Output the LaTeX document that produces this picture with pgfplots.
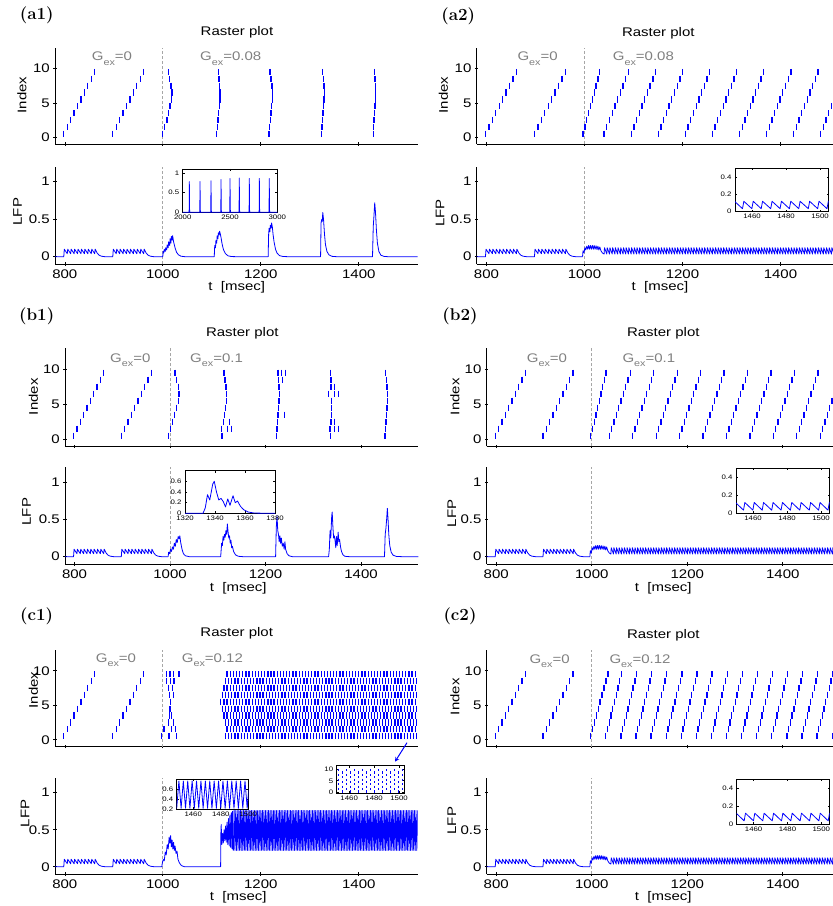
\documentclass[border=0pt]{standalone}
\usepackage{fontspec}
\usepackage{pgfplots}
\usepackage{pgfplotstable}
\pgfplotsset{compat=1.18}
\newfontfamily\hel[FakeStretch=1.2]{Liberation Sans}

% ---------- shared pre-stimulus data ----------
\pgfplotstableread[row sep=\\]{t y\\
798 0.5\\ 805 1.5\\ 812 2.5\\ 819 3.5\\ 826 4.5\\ 833 5.5\\ 840 6.5\\ 847 7.5\\ 854 8.5\\ 861 9.5\\
898 0.5\\ 905 1.5\\ 912 2.5\\ 919 3.5\\ 926 4.5\\ 933 5.5\\ 940 6.5\\ 947 7.5\\ 954 8.5\\ 961 9.5\\
}\preR
\pgfplotstableread[row sep=\\]{t y\\
780 0\\ 797.9 0\\ 799 0.1\\ 805 0.04\\ 806 0.1\\ 812 0.04\\ 813 0.1\\ 819 0.04\\ 820 0.1\\ 826 0.04\\ 827 0.1\\
833 0.04\\ 834 0.1\\ 840 0.04\\ 841 0.1\\ 847 0.04\\ 848 0.1\\ 854 0.04\\ 855 0.1\\ 861 0.04\\ 862 0.1\\
866 0.05\\ 870 0.02\\ 875 0.006\\ 882 0\\ 897.9 0\\ 899 0.1\\ 905 0.04\\ 906 0.1\\ 912 0.04\\ 913 0.1\\
919 0.04\\ 920 0.1\\ 926 0.04\\ 927 0.1\\ 933 0.04\\ 934 0.1\\ 940 0.04\\ 941 0.1\\ 947 0.04\\ 948 0.1\\
954 0.04\\ 955 0.1\\ 961 0.04\\ 962 0.1\\ 966 0.05\\ 970 0.02\\ 975 0.006\\ 982 0\\ 996 0\\
}\preL

% ---------- (a1) ----------
\pgfplotstableread[row sep=\\]{t y\\
999.6 0.5\\ 1004 1.5\\ 1008.5 2.5\\ 1012 3.5\\ 1015 4.5\\ 1017.5 5.5\\ 1018.5 6.5\\ 1016.5 7.5\\ 1013.5 8.5\\ 1011 9.5\\
1110 0.5\\ 1111 1.5\\ 1112.5 2.5\\ 1114 3.5\\ 1115.5 4.5\\ 1116.5 5.5\\ 1117 6.5\\ 1116 7.5\\ 1114.5 8.5\\ 1113 9.5\\
1217 0.5\\ 1218 1.5\\ 1219.5 2.5\\ 1221 3.5\\ 1222.5 4.5\\ 1223.5 5.5\\ 1224 6.5\\ 1223 7.5\\ 1221 8.5\\ 1219 9.5\\
1324.5 0.5\\ 1325 1.5\\ 1326 2.5\\ 1327 3.5\\ 1328 4.5\\ 1329 5.5\\ 1329.5 6.5\\ 1329 7.5\\ 1328 8.5\\ 1326.5 9.5\\
1429.5 0.5\\ 1430 1.5\\ 1431 2.5\\ 1432 3.5\\ 1433 4.5\\ 1434 5.5\\ 1434.5 6.5\\ 1434 7.5\\ 1433 8.5\\ 1432 9.5\\
}\aoneR
\pgfplotstableread[row sep=\\]{t y\\
996 0\\ 1000 0\\ 1000.5 0.07\\ 1002 0.05\\ 1003 0.1\\ 1005 0.07\\ 1006 0.12\\ 1008 0.09\\ 1009 0.16\\ 1011 0.12\\
1012 0.2\\ 1014 0.15\\ 1015 0.24\\ 1016.5 0.18\\ 1017.5 0.27\\ 1019 0.22\\ 1020 0.28\\ 1022 0.2\\ 1025 0.12\\ 1028 0.06\\
1032 0.025\\ 1037 0.007\\ 1045 0\\ 1105 0\\ 1106 0.15\\ 1107.5 0.12\\ 1108.5 0.22\\ 1110 0.18\\ 1111 0.28\\ 1112.5 0.24\\
1113.5 0.32\\ 1115 0.29\\ 1116 0.34\\ 1117.5 0.3\\ 1119 0.25\\ 1121 0.17\\ 1124 0.09\\ 1128 0.04\\ 1133 0.012\\ 1140 0.002\\
1150 0\\ 1215 0\\ 1216 0.3\\ 1217 0.38\\ 1218.5 0.33\\ 1219.5 0.42\\ 1221 0.38\\ 1222 0.45\\ 1223.5 0.4\\ 1225 0.3\\
1227 0.2\\ 1230 0.1\\ 1233 0.05\\ 1238 0.015\\ 1245 0.003\\ 1255 0\\ 1322 0\\ 1323 0.45\\ 1324.5 0.5\\ 1325.5 0.47\\
1326.5 0.59\\ 1328 0.5\\ 1330 0.3\\ 1332 0.16\\ 1335 0.07\\ 1339 0.025\\ 1345 0.005\\ 1355 0\\ 1428 0\\ 1429.5 0.4\\
1431 0.55\\ 1432.5 0.72\\ 1434 0.6\\ 1436 0.35\\ 1438 0.18\\ 1441 0.07\\ 1445 0.02\\ 1452 0.003\\ 1460 0\\ 1520 0\\
}\aoneL
\pgfplotstableread[row sep=\\]{t y\\
2000 0\\ 2068 0\\ 2070 0.78\\ 2073 0.05\\ 2076 0\\ 2181 0\\ 2183 0.78\\ 2186 0.05\\ 2189 0\\
2297 0\\ 2299 0.8\\ 2302 0.05\\ 2305 0\\ 2403 0\\ 2405 0.83\\ 2408 0.05\\ 2411 0\\
2498 0\\ 2500 0.86\\ 2503 0.05\\ 2506 0\\ 2596 0\\ 2598 0.87\\ 2601 0.05\\ 2604 0\\
2702 0\\ 2704 0.86\\ 2707 0.05\\ 2710 0\\ 2808 0\\ 2810 0.86\\ 2813 0.05\\ 2816 0\\
2913 0\\ 2915 0.86\\ 2918 0.05\\ 2921 0\\ 3000 0\\
}\aoneI

% ---------- (a2) ----------
\pgfplotstableread[row sep=\\]{t y\\
997 0.5\\ 1000.8 1.5\\ 1004.6 2.5\\ 1008.4 3.5\\ 1012.2 4.5\\ 1016 5.5\\ 1019.8 6.5\\ 1023.6 7.5\\ 1027.4 8.5\\ 1031.2 9.5\\
1040.0 0.5\\ 1045.5 1.5\\ 1051.1 2.5\\ 1056.6 3.5\\ 1062.1 4.5\\ 1067.6 5.5\\ 1073.2 6.5\\ 1078.7 7.5\\ 1084.2 8.5\\ 1089.7 9.5\\
1095.3 0.5\\ 1100.8 1.5\\ 1106.3 2.5\\ 1111.8 3.5\\ 1117.4 4.5\\ 1122.9 5.5\\ 1128.4 6.5\\ 1133.9 7.5\\ 1139.5 8.5\\ 1145.0 9.5\\
1150.5 0.5\\ 1156.0 1.5\\ 1161.6 2.5\\ 1167.1 3.5\\ 1172.6 4.5\\ 1178.1 5.5\\ 1183.7 6.5\\ 1189.2 7.5\\ 1194.7 8.5\\ 1200.2 9.5\\
1205.8 0.5\\ 1211.3 1.5\\ 1216.8 2.5\\ 1222.3 3.5\\ 1227.9 4.5\\ 1233.4 5.5\\ 1238.9 6.5\\ 1244.4 7.5\\ 1250.0 8.5\\ 1255.5 9.5\\
1261.0 0.5\\ 1266.5 1.5\\ 1272.1 2.5\\ 1277.6 3.5\\ 1283.1 4.5\\ 1288.6 5.5\\ 1294.2 6.5\\ 1299.7 7.5\\ 1305.2 8.5\\ 1310.7 9.5\\
1316.3 0.5\\ 1321.8 1.5\\ 1327.3 2.5\\ 1332.8 3.5\\ 1338.4 4.5\\ 1343.9 5.5\\ 1349.4 6.5\\ 1354.9 7.5\\ 1360.5 8.5\\ 1366.0 9.5\\
1371.5 0.5\\ 1377.0 1.5\\ 1382.6 2.5\\ 1388.1 3.5\\ 1393.6 4.5\\ 1399.1 5.5\\ 1404.7 6.5\\ 1410.2 7.5\\ 1415.7 8.5\\ 1421.2 9.5\\
1426.8 0.5\\ 1432.3 1.5\\ 1437.8 2.5\\ 1443.3 3.5\\ 1448.9 4.5\\ 1454.4 5.5\\ 1459.9 6.5\\ 1465.4 7.5\\ 1471.0 8.5\\ 1476.5 9.5\\
1482.0 0.5\\ 1487.5 1.5\\ 1493.1 2.5\\ 1498.6 3.5\\ 1504.1 4.5\\ 1509.6 5.5\\ 1515.2 6.5\\
}\atwoR
% shared LFP after the switch, right column
\pgfplotstableread[row sep=\\]{t y\\
996 0\\ 997 0.08\\ 999 0.05\\ 1000.8 0.12\\ 1002.5 0.09\\ 1004.6 0.14\\ 1006.5 0.1\\ 1008.4 0.15\\ 1010.2 0.1\\ 1012.2 0.15\\
1014 0.1\\ 1016 0.15\\ 1018 0.1\\ 1019.8 0.15\\ 1021.6 0.1\\ 1023.6 0.145\\ 1025.5 0.095\\ 1027.4 0.14\\ 1029.3 0.09\\ 1031.2 0.13\\
1033.5 0.08\\ 1036.5 0.05\\
1040.0 0.035\\ 1040.8 0.12\\ 1045.5 0.035\\ 1046.3 0.12\\ 1051.1 0.035\\ 1051.9 0.12\\ 1056.6 0.035\\ 1057.4 0.12\\ 1062.1 0.035\\ 1062.9 0.12\\
1067.6 0.035\\ 1068.4 0.12\\ 1073.2 0.035\\ 1074.0 0.12\\ 1078.7 0.035\\ 1079.5 0.12\\ 1084.2 0.035\\ 1085.0 0.12\\ 1089.7 0.035\\ 1090.5 0.12\\
1095.3 0.035\\ 1096.1 0.12\\ 1100.8 0.035\\ 1101.6 0.12\\ 1106.3 0.035\\ 1107.1 0.12\\ 1111.8 0.035\\ 1112.6 0.12\\ 1117.4 0.035\\ 1118.2 0.12\\
1122.9 0.035\\ 1123.7 0.12\\ 1128.4 0.035\\ 1129.2 0.12\\ 1133.9 0.035\\ 1134.7 0.12\\ 1139.5 0.035\\ 1140.3 0.12\\ 1145.0 0.035\\ 1145.8 0.12\\
1150.5 0.035\\ 1151.3 0.12\\ 1156.0 0.035\\ 1156.8 0.12\\ 1161.6 0.035\\ 1162.4 0.12\\ 1167.1 0.035\\ 1167.9 0.12\\ 1172.6 0.035\\ 1173.4 0.12\\
1178.1 0.035\\ 1178.9 0.12\\ 1183.7 0.035\\ 1184.5 0.12\\ 1189.2 0.035\\ 1190.0 0.12\\ 1194.7 0.035\\ 1195.5 0.12\\ 1200.2 0.035\\ 1201.0 0.12\\
1205.8 0.035\\ 1206.6 0.12\\ 1211.3 0.035\\ 1212.1 0.12\\ 1216.8 0.035\\ 1217.6 0.12\\ 1222.3 0.035\\ 1223.1 0.12\\ 1227.9 0.035\\ 1228.7 0.12\\
1233.4 0.035\\ 1234.2 0.12\\ 1238.9 0.035\\ 1239.7 0.12\\ 1244.4 0.035\\ 1245.2 0.12\\ 1250.0 0.035\\ 1250.8 0.12\\ 1255.5 0.035\\ 1256.3 0.12\\
1261.0 0.035\\ 1261.8 0.12\\ 1266.5 0.035\\ 1267.3 0.12\\ 1272.1 0.035\\ 1272.9 0.12\\ 1277.6 0.035\\ 1278.4 0.12\\ 1283.1 0.035\\ 1283.9 0.12\\
1288.6 0.035\\ 1289.4 0.12\\ 1294.2 0.035\\ 1295.0 0.12\\ 1299.7 0.035\\ 1300.5 0.12\\ 1305.2 0.035\\ 1306.0 0.12\\ 1310.7 0.035\\ 1311.5 0.12\\
1316.3 0.035\\ 1317.1 0.12\\ 1321.8 0.035\\ 1322.6 0.12\\ 1327.3 0.035\\ 1328.1 0.12\\ 1332.8 0.035\\ 1333.6 0.12\\ 1338.4 0.035\\ 1339.2 0.12\\
1343.9 0.035\\ 1344.7 0.12\\ 1349.4 0.035\\ 1350.2 0.12\\ 1354.9 0.035\\ 1355.7 0.12\\ 1360.5 0.035\\ 1361.3 0.12\\ 1366.0 0.035\\ 1366.8 0.12\\
1371.5 0.035\\ 1372.3 0.12\\ 1377.0 0.035\\ 1377.8 0.12\\ 1382.6 0.035\\ 1383.4 0.12\\ 1388.1 0.035\\ 1388.9 0.12\\ 1393.6 0.035\\ 1394.4 0.12\\
1399.1 0.035\\ 1399.9 0.12\\ 1404.7 0.035\\ 1405.5 0.12\\ 1410.2 0.035\\ 1411.0 0.12\\ 1415.7 0.035\\ 1416.5 0.12\\ 1421.2 0.035\\ 1422.0 0.12\\
1426.8 0.035\\ 1427.6 0.12\\ 1432.3 0.035\\ 1433.1 0.12\\ 1437.8 0.035\\ 1438.6 0.12\\ 1443.3 0.035\\ 1444.1 0.12\\ 1448.9 0.035\\ 1449.7 0.12\\
1454.4 0.035\\ 1455.2 0.12\\ 1459.9 0.035\\ 1460.7 0.12\\ 1465.4 0.035\\ 1466.2 0.12\\ 1471.0 0.035\\ 1471.8 0.12\\ 1476.5 0.035\\ 1477.3 0.12\\
1482.0 0.035\\ 1482.8 0.12\\ 1487.5 0.035\\ 1488.3 0.12\\ 1493.1 0.035\\ 1493.9 0.12\\ 1498.6 0.035\\ 1499.4 0.12\\ 1504.1 0.035\\ 1504.9 0.12\\
1509.6 0.035\\ 1510.4 0.12\\ 1515.2 0.035\\ 1516.0 0.12\\ 1520.7 0.035\\ 1521.5 0.12\\
}\rightL

% ---------- (b1) ----------
\pgfplotstableread[row sep=\\]{t y\\
996.5 0.5\\ 1001 1.5\\ 1005.5 2.5\\ 1010 3.5\\ 1014 4.5\\ 1017 5.5\\ 1019 6.5\\ 1017.5 7.5\\ 1014 8.5\\ 1010.5 9.5\\
1109 0.5\\ 1107 1.5\\ 1121 1.5\\ 1129 1.5\\ 1112 2.5\\ 1124 2.5\\ 1114 3.5\\ 1116 4.5\\ 1117.5 5.5\\ 1118 6.5\\ 1117 7.5\\ 1115 8.5\\ 1113 9.5\\
1223 0.5\\ 1224 1.5\\ 1225 2.5\\ 1226 3.5\\ 1240 3.5\\ 1227 4.5\\ 1228 5.5\\ 1228.5 6.5\\ 1228 7.5\\ 1227 8.5\\ 1235 8.5\\ 1226 9.5\\ 1234 9.5\\ 1241 9.5\\
1336 0.5\\ 1335 1.5\\ 1345 1.5\\ 1352 1.5\\ 1337 2.5\\ 1345 2.5\\ 1338 3.5\\ 1338.5 4.5\\ 1338 5.5\\ 1332 6.5\\ 1345 6.5\\ 1352 6.5\\ 1337 7.5\\ 1345 7.5\\ 1337 8.5\\ 1336 9.5\\
1450 0.5\\ 1451 1.5\\ 1452 2.5\\ 1453 3.5\\ 1454 4.5\\ 1455 5.5\\ 1455 6.5\\ 1454 7.5\\ 1452.5 8.5\\ 1451 9.5\\
}\boneR
\pgfplotstableread[row sep=\\]{t y\\
996 0\\ 997 0.06\\ 999 0.04\\ 1001 0.1\\ 1003 0.07\\ 1005 0.13\\ 1007 0.1\\ 1009 0.18\\ 1011 0.14\\ 1013 0.23\\
1015 0.19\\ 1017 0.27\\ 1019 0.24\\ 1020.5 0.28\\ 1022 0.2\\ 1025 0.1\\ 1028 0.04\\ 1032 0.012\\ 1040 0\\ 1106 0\\
1108 0.18\\ 1109.5 0.15\\ 1111 0.27\\ 1112.5 0.22\\ 1114 0.3\\ 1115.5 0.26\\ 1117 0.35\\ 1118.5 0.3\\ 1120 0.44\\ 1121.5 0.33\\
1123 0.25\\ 1124.5 0.28\\ 1126 0.18\\ 1127.5 0.22\\ 1129 0.12\\ 1130.5 0.14\\ 1133 0.07\\ 1137 0.025\\ 1143 0.005\\ 1152 0\\
1221 0\\ 1222.5 0.4\\ 1224 0.55\\ 1225.5 0.35\\ 1227 0.3\\ 1228.5 0.2\\ 1230 0.28\\ 1231.5 0.18\\ 1233 0.25\\ 1235 0.14\\
1237 0.18\\ 1239 0.1\\ 1240.5 0.2\\ 1242 0.1\\ 1245 0.04\\ 1249 0.012\\ 1256 0\\ 1332 0\\ 1333.5 0.1\\ 1335 0.35\\
1336.5 0.25\\ 1338.5 0.55\\ 1339.5 0.6\\ 1341 0.4\\ 1342.5 0.25\\ 1344 0.28\\ 1345.5 0.22\\ 1347 0.12\\ 1348.5 0.27\\ 1350 0.15\\
1352 0.33\\ 1353.5 0.2\\ 1355 0.23\\ 1357 0.13\\ 1359 0.07\\ 1362 0.025\\ 1366 0.005\\ 1375 0\\ 1449 0\\ 1450.5 0.3\\
1452 0.38\\ 1453.5 0.5\\ 1455 0.65\\ 1456.5 0.5\\ 1458 0.3\\ 1460 0.15\\ 1463 0.06\\ 1467 0.02\\ 1474 0.003\\ 1485 0\\ 1520 0\\
}\boneL

% ---------- (b2) ----------
\pgfplotstableread[row sep=\\]{t y\\
998 0.5\\ 1001.6 1.5\\ 1005.1 2.5\\ 1008.7 3.5\\ 1012.2 4.5\\ 1015.8 5.5\\ 1019.3 6.5\\ 1022.9 7.5\\ 1026.4 8.5\\ 1030 9.5\\
1036.7 0.5\\ 1041.6 1.5\\ 1046.5 2.5\\ 1051.4 3.5\\ 1056.3 4.5\\ 1061.2 5.5\\ 1066.2 6.5\\ 1071.1 7.5\\ 1076.0 8.5\\ 1080.9 9.5\\
1085.8 0.5\\ 1090.7 1.5\\ 1095.6 2.5\\ 1100.5 3.5\\ 1105.4 4.5\\ 1110.3 5.5\\ 1115.2 6.5\\ 1120.2 7.5\\ 1125.1 8.5\\ 1130.0 9.5\\
1134.9 0.5\\ 1139.8 1.5\\ 1144.7 2.5\\ 1149.6 3.5\\ 1154.5 4.5\\ 1159.4 5.5\\ 1164.3 6.5\\ 1169.2 7.5\\ 1174.2 8.5\\ 1179.1 9.5\\
1184.0 0.5\\ 1188.9 1.5\\ 1193.8 2.5\\ 1198.7 3.5\\ 1203.6 4.5\\ 1208.5 5.5\\ 1213.4 6.5\\ 1218.3 7.5\\ 1223.2 8.5\\ 1228.2 9.5\\
1233.1 0.5\\ 1238.0 1.5\\ 1242.9 2.5\\ 1247.8 3.5\\ 1252.7 4.5\\ 1257.6 5.5\\ 1262.5 6.5\\ 1267.4 7.5\\ 1272.3 8.5\\ 1277.2 9.5\\
1282.2 0.5\\ 1287.1 1.5\\ 1292.0 2.5\\ 1296.9 3.5\\ 1301.8 4.5\\ 1306.7 5.5\\ 1311.6 6.5\\ 1316.5 7.5\\ 1321.4 8.5\\ 1326.3 9.5\\
1331.2 0.5\\ 1336.2 1.5\\ 1341.1 2.5\\ 1346.0 3.5\\ 1350.9 4.5\\ 1355.8 5.5\\ 1360.7 6.5\\ 1365.6 7.5\\ 1370.5 8.5\\ 1375.4 9.5\\
1380.3 0.5\\ 1385.2 1.5\\ 1390.2 2.5\\ 1395.1 3.5\\ 1400.0 4.5\\ 1404.9 5.5\\ 1409.8 6.5\\ 1414.7 7.5\\ 1419.6 8.5\\ 1424.5 9.5\\
1429.4 0.5\\ 1434.3 1.5\\ 1439.2 2.5\\ 1444.2 3.5\\ 1449.1 4.5\\ 1454.0 5.5\\ 1458.9 6.5\\ 1463.8 7.5\\ 1468.7 8.5\\ 1473.6 9.5\\
1478.5 0.5\\ 1483.4 1.5\\ 1488.3 2.5\\ 1493.2 3.5\\ 1498.2 4.5\\ 1503.1 5.5\\ 1508.0 6.5\\
}\btwoR

% ---------- (c1) ----------
\pgfplotstableread[row sep=\\]{t y\\
997.6 0.5\\ 1012.6 0.5\\ 1028.2 0.5\\ 1002.4 1.5\\ 1018 1.5\\ 1026.2 1.5\\ 1011.2 2.5\\ 1021.4 2.5\\ 1013.3 3.5\\ 1018 3.5\\
1014.6 4.5\\ 1016 5.5\\ 1013.3 6.5\\ 1021.4 6.5\\ 1011.2 7.5\\ 1019.4 7.5\\ 1007.8 8.5\\ 1016 8.5\\ 1022.8 8.5\\
1007.8 9.5\\ 1014.6 9.5\\ 1021.4 9.5\\ 1033 9.5\\
1118.4 5.5\\ 1124.8 5.5\\ 1121.6 4.5\\ 1121.6 6.5\\ 1124.8 3.5\\ 1124.8 7.5\\
}\coneR
% spike times of the odd- and even-numbered cells in the sustained state
\pgfplotstableread[row sep=\\]{t\\
1128.0\\ 1134.4\\ 1140.8\\ 1147.2\\ 1153.6\\ 1160.0\\ 1166.4\\ 1172.8\\ 1179.2\\ 1185.6\\
1192.0\\ 1198.4\\ 1204.8\\ 1211.2\\ 1217.6\\ 1224.0\\ 1230.4\\ 1236.8\\ 1243.2\\ 1249.6\\
1256.0\\ 1262.4\\ 1268.8\\ 1275.2\\ 1281.6\\ 1288.0\\ 1294.4\\ 1300.8\\ 1307.2\\ 1313.6\\
1320.0\\ 1326.4\\ 1332.8\\ 1339.2\\ 1345.6\\ 1352.0\\ 1358.4\\ 1364.8\\ 1371.2\\ 1377.6\\
1384.0\\ 1390.4\\ 1396.8\\ 1403.2\\ 1409.6\\ 1416.0\\ 1422.4\\ 1428.8\\ 1435.2\\ 1441.6\\
1448.0\\ 1454.4\\ 1460.8\\ 1467.2\\ 1473.6\\ 1480.0\\ 1486.4\\ 1492.8\\ 1499.2\\ 1505.6\\ 1512.0\\ 1518.4\\
}\cOdd
\pgfplotstableread[row sep=\\]{t\\
1131.2\\ 1137.6\\ 1144.0\\ 1150.4\\ 1156.8\\ 1163.2\\ 1169.6\\ 1176.0\\ 1182.4\\ 1188.8\\
1195.2\\ 1201.6\\ 1208.0\\ 1214.4\\ 1220.8\\ 1227.2\\ 1233.6\\ 1240.0\\ 1246.4\\ 1252.8\\
1259.2\\ 1265.6\\ 1272.0\\ 1278.4\\ 1284.8\\ 1291.2\\ 1297.6\\ 1304.0\\ 1310.4\\ 1316.8\\
1323.2\\ 1329.6\\ 1336.0\\ 1342.4\\ 1348.8\\ 1355.2\\ 1361.6\\ 1368.0\\ 1374.4\\ 1380.8\\
1387.2\\ 1393.6\\ 1400.0\\ 1406.4\\ 1412.8\\ 1419.2\\ 1425.6\\ 1432.0\\ 1438.4\\ 1444.8\\
1451.2\\ 1457.6\\ 1464.0\\ 1470.4\\ 1476.8\\ 1483.2\\ 1489.6\\ 1496.0\\ 1502.4\\ 1508.8\\ 1515.2\\
}\cEven
\pgfplotstableread[row sep=\\]{t y\\
996 0\\ 998 0\\ 999 0.05\\ 1001 0.1\\ 1003 0.08\\ 1005 0.2\\ 1007 0.16\\ 1009 0.3\\ 1011 0.24\\ 1013 0.4\\
1014.5 0.32\\ 1016 0.42\\ 1017.5 0.27\\ 1019 0.36\\ 1020.5 0.24\\ 1022 0.33\\ 1023.5 0.22\\ 1025 0.28\\ 1027 0.18\\ 1029 0.21\\
1031 0.1\\ 1034 0.05\\ 1038 0.015\\ 1044 0\\ 1118 0\\ 1118.5 0.45\\ 1119.2 0.57\\ 1120.5 0.3\\ 1122 0.45\\ 1123.5 0.32\\
1125 0.5\\ 1126.5 0.35\\ 1128 0.55\\ 1129.5 0.33\\ 1131 0.6\\ 1132.5 0.3\\ 1134 0.65\\ 1135.5 0.28\\ 1137 0.7\\ 1138.5 0.26\\
1140 0.73\\ 1141.5 0.24\\ 1142.5 0.75\\ 1144 0.22\\
}\coneL
\pgfplotstableread[row sep=\\]{t y\\
1144.0 0.22\\ 1145.6 0.76\\ 1147.2 0.22\\ 1148.8 0.76\\ 1150.4 0.22\\
1152.0 0.76\\ 1153.6 0.22\\ 1155.2 0.76\\ 1156.8 0.22\\ 1158.4 0.76\\
1160.0 0.22\\ 1161.6 0.76\\ 1163.2 0.22\\ 1164.8 0.76\\ 1166.4 0.22\\
1168.0 0.76\\ 1169.6 0.22\\ 1171.2 0.76\\ 1172.8 0.22\\ 1174.4 0.76\\
1176.0 0.22\\ 1177.6 0.76\\ 1179.2 0.22\\ 1180.8 0.76\\ 1182.4 0.22\\
1184.0 0.76\\ 1185.6 0.22\\ 1187.2 0.76\\ 1188.8 0.22\\ 1190.4 0.76\\
1192.0 0.22\\ 1193.6 0.76\\ 1195.2 0.22\\ 1196.8 0.76\\ 1198.4 0.22\\
1200.0 0.76\\ 1201.6 0.22\\ 1203.2 0.76\\ 1204.8 0.22\\ 1206.4 0.76\\
1208.0 0.22\\ 1209.6 0.76\\ 1211.2 0.22\\ 1212.8 0.76\\ 1214.4 0.22\\
1216.0 0.76\\ 1217.6 0.22\\ 1219.2 0.76\\ 1220.8 0.22\\ 1222.4 0.76\\
1224.0 0.22\\ 1225.6 0.76\\ 1227.2 0.22\\ 1228.8 0.76\\ 1230.4 0.22\\
1232.0 0.76\\ 1233.6 0.22\\ 1235.2 0.76\\ 1236.8 0.22\\ 1238.4 0.76\\
1240.0 0.22\\ 1241.6 0.76\\ 1243.2 0.22\\ 1244.8 0.76\\ 1246.4 0.22\\
1248.0 0.76\\ 1249.6 0.22\\ 1251.2 0.76\\ 1252.8 0.22\\ 1254.4 0.76\\
1256.0 0.22\\ 1257.6 0.76\\ 1259.2 0.22\\ 1260.8 0.76\\ 1262.4 0.22\\
1264.0 0.76\\ 1265.6 0.22\\ 1267.2 0.76\\ 1268.8 0.22\\ 1270.4 0.76\\
1272.0 0.22\\ 1273.6 0.76\\ 1275.2 0.22\\ 1276.8 0.76\\ 1278.4 0.22\\
1280.0 0.76\\ 1281.6 0.22\\ 1283.2 0.76\\ 1284.8 0.22\\ 1286.4 0.76\\
1288.0 0.22\\ 1289.6 0.76\\ 1291.2 0.22\\ 1292.8 0.76\\ 1294.4 0.22\\
1296.0 0.76\\ 1297.6 0.22\\ 1299.2 0.76\\ 1300.8 0.22\\ 1302.4 0.76\\
1304.0 0.22\\ 1305.6 0.76\\ 1307.2 0.22\\ 1308.8 0.76\\ 1310.4 0.22\\
1312.0 0.76\\ 1313.6 0.22\\ 1315.2 0.76\\ 1316.8 0.22\\ 1318.4 0.76\\
1320.0 0.22\\ 1321.6 0.76\\ 1323.2 0.22\\ 1324.8 0.76\\ 1326.4 0.22\\
1328.0 0.76\\ 1329.6 0.22\\ 1331.2 0.76\\ 1332.8 0.22\\ 1334.4 0.76\\
1336.0 0.22\\ 1337.6 0.76\\ 1339.2 0.22\\ 1340.8 0.76\\ 1342.4 0.22\\
1344.0 0.76\\ 1345.6 0.22\\ 1347.2 0.76\\ 1348.8 0.22\\ 1350.4 0.76\\
1352.0 0.22\\ 1353.6 0.76\\ 1355.2 0.22\\ 1356.8 0.76\\ 1358.4 0.22\\
1360.0 0.76\\ 1361.6 0.22\\ 1363.2 0.76\\ 1364.8 0.22\\ 1366.4 0.76\\
1368.0 0.22\\ 1369.6 0.76\\ 1371.2 0.22\\ 1372.8 0.76\\ 1374.4 0.22\\
1376.0 0.76\\ 1377.6 0.22\\ 1379.2 0.76\\ 1380.8 0.22\\ 1382.4 0.76\\
1384.0 0.22\\ 1385.6 0.76\\ 1387.2 0.22\\ 1388.8 0.76\\ 1390.4 0.22\\
1392.0 0.76\\ 1393.6 0.22\\ 1395.2 0.76\\ 1396.8 0.22\\ 1398.4 0.76\\
1400.0 0.22\\ 1401.6 0.76\\ 1403.2 0.22\\ 1404.8 0.76\\ 1406.4 0.22\\
1408.0 0.76\\ 1409.6 0.22\\ 1411.2 0.76\\ 1412.8 0.22\\ 1414.4 0.76\\
1416.0 0.22\\ 1417.6 0.76\\ 1419.2 0.22\\ 1420.8 0.76\\ 1422.4 0.22\\
1424.0 0.76\\ 1425.6 0.22\\ 1427.2 0.76\\ 1428.8 0.22\\ 1430.4 0.76\\
1432.0 0.22\\ 1433.6 0.76\\ 1435.2 0.22\\ 1436.8 0.76\\ 1438.4 0.22\\
1440.0 0.76\\ 1441.6 0.22\\ 1443.2 0.76\\ 1444.8 0.22\\ 1446.4 0.76\\
1448.0 0.22\\ 1449.6 0.76\\ 1451.2 0.22\\ 1452.8 0.76\\ 1454.4 0.22\\
1456.0 0.76\\ 1457.6 0.22\\ 1459.2 0.76\\ 1460.8 0.22\\ 1462.4 0.76\\
1464.0 0.22\\ 1465.6 0.76\\ 1467.2 0.22\\ 1468.8 0.76\\ 1470.4 0.22\\
1472.0 0.76\\ 1473.6 0.22\\ 1475.2 0.76\\ 1476.8 0.22\\ 1478.4 0.76\\
1480.0 0.22\\ 1481.6 0.76\\ 1483.2 0.22\\ 1484.8 0.76\\ 1486.4 0.22\\
1488.0 0.76\\ 1489.6 0.22\\ 1491.2 0.76\\ 1492.8 0.22\\ 1494.4 0.76\\
1496.0 0.22\\ 1497.6 0.76\\ 1499.2 0.22\\ 1500.8 0.76\\ 1502.4 0.22\\
1504.0 0.76\\ 1505.6 0.22\\ 1507.2 0.76\\ 1508.8 0.22\\ 1510.4 0.76\\
1512.0 0.22\\ 1513.6 0.76\\ 1515.2 0.22\\ 1516.8 0.76\\ 1518.4 0.22\\ 1520.0 0.76\\
}\coneB

% ---------- (c2) ----------
\pgfplotstableread[row sep=\\]{t y\\
997 0.5\\ 1001.1 1.5\\ 1005.2 2.5\\ 1009.3 3.5\\ 1013.4 4.5\\ 1017.5 5.5\\ 1021.6 6.5\\ 1025.7 7.5\\ 1029.8 8.5\\ 1033.9 9.5\\
1029.4 0.5\\ 1033.1 1.5\\ 1036.7 2.5\\ 1040.4 3.5\\ 1044.0 4.5\\ 1047.7 5.5\\ 1051.4 6.5\\ 1055.0 7.5\\ 1058.7 8.5\\ 1062.3 9.5\\
1061.0 0.5\\ 1064.7 1.5\\ 1068.3 2.5\\ 1072.0 3.5\\ 1075.6 4.5\\ 1079.3 5.5\\ 1083.0 6.5\\ 1086.6 7.5\\ 1090.3 8.5\\ 1093.9 9.5\\
1092.6 0.5\\ 1096.3 1.5\\ 1099.9 2.5\\ 1103.6 3.5\\ 1107.2 4.5\\ 1110.9 5.5\\ 1114.6 6.5\\ 1118.2 7.5\\ 1121.9 8.5\\ 1125.5 9.5\\
1124.2 0.5\\ 1127.9 1.5\\ 1131.5 2.5\\ 1135.2 3.5\\ 1138.8 4.5\\ 1142.5 5.5\\ 1146.2 6.5\\ 1149.8 7.5\\ 1153.5 8.5\\ 1157.1 9.5\\
1155.8 0.5\\ 1159.5 1.5\\ 1163.1 2.5\\ 1166.8 3.5\\ 1170.4 4.5\\ 1174.1 5.5\\ 1177.8 6.5\\ 1181.4 7.5\\ 1185.1 8.5\\ 1188.7 9.5\\
1187.4 0.5\\ 1191.1 1.5\\ 1194.7 2.5\\ 1198.4 3.5\\ 1202.0 4.5\\ 1205.7 5.5\\ 1209.4 6.5\\ 1213.0 7.5\\ 1216.7 8.5\\ 1220.3 9.5\\
1219.0 0.5\\ 1222.7 1.5\\ 1226.3 2.5\\ 1230.0 3.5\\ 1233.6 4.5\\ 1237.3 5.5\\ 1241.0 6.5\\ 1244.6 7.5\\ 1248.3 8.5\\ 1251.9 9.5\\
1250.6 0.5\\ 1254.3 1.5\\ 1257.9 2.5\\ 1261.6 3.5\\ 1265.2 4.5\\ 1268.9 5.5\\ 1272.6 6.5\\ 1276.2 7.5\\ 1279.9 8.5\\ 1283.5 9.5\\
1282.2 0.5\\ 1285.9 1.5\\ 1289.5 2.5\\ 1293.2 3.5\\ 1296.8 4.5\\ 1300.5 5.5\\ 1304.2 6.5\\ 1307.8 7.5\\ 1311.5 8.5\\ 1315.1 9.5\\
1313.8 0.5\\ 1317.5 1.5\\ 1321.1 2.5\\ 1324.8 3.5\\ 1328.4 4.5\\ 1332.1 5.5\\ 1335.8 6.5\\ 1339.4 7.5\\ 1343.1 8.5\\ 1346.7 9.5\\
1345.4 0.5\\ 1349.1 1.5\\ 1352.7 2.5\\ 1356.4 3.5\\ 1360.0 4.5\\ 1363.7 5.5\\ 1367.4 6.5\\ 1371.0 7.5\\ 1374.7 8.5\\ 1378.3 9.5\\
1377.0 0.5\\ 1380.7 1.5\\ 1384.3 2.5\\ 1388.0 3.5\\ 1391.6 4.5\\ 1395.3 5.5\\ 1399.0 6.5\\ 1402.6 7.5\\ 1406.3 8.5\\ 1409.9 9.5\\
1408.6 0.5\\ 1412.3 1.5\\ 1415.9 2.5\\ 1419.6 3.5\\ 1423.2 4.5\\ 1426.9 5.5\\ 1430.6 6.5\\ 1434.2 7.5\\ 1437.9 8.5\\ 1441.5 9.5\\
1440.2 0.5\\ 1443.9 1.5\\ 1447.5 2.5\\ 1451.2 3.5\\ 1454.8 4.5\\ 1458.5 5.5\\ 1462.2 6.5\\ 1465.8 7.5\\ 1469.5 8.5\\ 1473.1 9.5\\
1471.8 0.5\\ 1475.5 1.5\\ 1479.1 2.5\\ 1482.8 3.5\\ 1486.4 4.5\\ 1490.1 5.5\\ 1493.8 6.5\\ 1497.4 7.5\\ 1501.1 8.5\\ 1504.7 9.5\\
1503.4 0.5\\ 1507.1 1.5\\
}\ctwoR

\pgfplotsset{
  base/.style={scale only axis, tick align=inside, clip=true, anchor=south west,
    every tick/.style={black, line width=0.6pt},
    tick label style={font=\hel\fontsize{12.5}{12.5}\selectfont}},
  main/.style={base, axis x line=bottom, axis y line=left,
    axis line style={-, line width=0.8pt}, major tick length=3.5pt,
    xmin=780, xmax=1520, xtick={800,1000,1200,1400}},
  rast/.style={main, ymin=-1, ymax=13, ytick={0,5,10}, yticklabels={0,5,10}, xticklabels={}},
  lfp/.style={main, ymin=-0.1, ymax=1.2, ytick={0,0.5,1}, yticklabels={0,0.5,1},
    xticklabels={800,1000,1200,1400}},
  ins/.style={base, axis background/.style={fill=white}, axis line style={line width=0.9pt},
    major tick length=2pt, tick label style={font=\hel\fontsize{6.5}{6.5}\selectfont},
    xticklabel style={yshift=1pt}},
  rins/.style={ins, xmin=1450, xmax=1505, ymin=0, ymax=0.5, xtick={1460,1480,1500},
    xticklabels={1460,1480,1500}, ytick={0,0.2,0.4}, yticklabels={0,0.2,0.4}},
  spk/.style={blue, only marks, mark=|, mark size=3.1pt, mark options={line width=1.3pt}},
  spks/.style={blue, only marks, mark=|, mark size=1.1pt, mark options={line width=1pt}},
  lf/.style={blue, line width=0.8pt, no marks, line join=round},
  dsh/.style={black!35, dash pattern=on 3pt off 2pt, line width=0.6pt, no marks},
}
\newcommand\lab{\hel\fontsize{12.5}{12.5}\selectfont}
\newcommand\gex[1]{{\hel\fontsize{12.5}{12.5}\selectfont\color{black!50}G\raisebox{-4.5pt}{\fontsize{9}{9}\selectfont ex}=#1}}
\newcommand\pan{\bfseries\fontsize{17}{17}\selectfont}

\begin{document}
\begin{tikzpicture}[x=1pt,y=1pt]
\path[use as bounding box] (0pt,0pt) rectangle (833pt,906pt);
\clip (0pt,0pt) rectangle (833pt,906pt);

% ================= (a1) =================
\begin{axis}[rast, at={(55pt,762pt)}, width=362.6pt, height=96pt]
\addplot[dsh] coordinates {(1000,-1) (1000,13)};
\addplot[spk] table[x=t,y=y] {\preR};
\addplot[spk] table[x=t,y=y] {\aoneR};
\end{axis}
\begin{axis}[lfp, at={(55pt,641.8pt)}, width=362.6pt, height=97.5pt]
\addplot[dsh] coordinates {(1000,-0.1) (1000,1.2)};
\addplot[lf] table[x=t,y=y] {\preL};
\addplot[lf] table[x=t,y=y] {\aoneL};
\end{axis}
\begin{axis}[ins, at={(182.7pt,693.7pt)}, width=94.6pt, height=43.3pt,
  xmin=2000, xmax=3000, ymin=0, ymax=1.1, xtick={2000,2500,3000}, xticklabels={2000,2500,3000},
  ytick={0,0.5,1}, yticklabels={0,0.5,1}]
\addplot[lf] table[x=t,y=y] {\aoneI};
\end{axis}

% ================= (a2) =================
\begin{axis}[rast, at={(476.7pt,762pt)}, width=362.6pt, height=96pt]
\addplot[dsh] coordinates {(1000,-1) (1000,13)};
\addplot[spk] table[x=t,y=y] {\preR};
\addplot[spk] table[x=t,y=y] {\atwoR};
\end{axis}
\begin{axis}[lfp, at={(476.7pt,641.8pt)}, width=362.6pt, height=97.5pt]
\addplot[dsh] coordinates {(1000,-0.1) (1000,1.2)};
\addplot[lf] table[x=t,y=y] {\preL};
\addplot[lf] table[x=t,y=y] {\rightL};
\end{axis}
\begin{axis}[rins, at={(735pt,694.3pt)}, width=93.5pt, height=43.4pt]
\addplot[lf] table[x=t,y=y] {\rightL};
\end{axis}

% ================= (b1) =================
\begin{axis}[rast, at={(65pt,459.7pt)}, width=353.4pt, height=98pt]
\addplot[dsh] coordinates {(1000,-1) (1000,13)};
\addplot[spk] table[x=t,y=y] {\preR};
\addplot[spk] table[x=t,y=y] {\boneR};
\end{axis}
\begin{axis}[lfp, at={(65pt,341.9pt)}, width=353.4pt, height=96.7pt]
\addplot[dsh] coordinates {(1000,-0.1) (1000,1.2)};
\addplot[lf] table[x=t,y=y] {\preL};
\addplot[lf] table[x=t,y=y] {\boneL};
\end{axis}
\begin{axis}[ins, at={(185pt,392.7pt)}, width=90pt, height=42.6pt,
  xmin=1320, xmax=1380, ymin=0, ymax=0.8, xtick={1320,1340,1360,1380}, xticklabels={1320,1340,1360,1380},
  ytick={0,0.2,0.4,0.6}, yticklabels={0,0.2,0.4,0.6}]
\addplot[lf] table[x=t,y=y] {\boneL};
\end{axis}

% ================= (b2) =================
\begin{axis}[rast, at={(486.7pt,459.7pt)}, width=353.4pt, height=98pt]
\addplot[dsh] coordinates {(1000,-1) (1000,13)};
\addplot[spk] table[x=t,y=y] {\preR};
\addplot[spk] table[x=t,y=y] {\btwoR};
\end{axis}
\begin{axis}[lfp, at={(486.7pt,341.9pt)}, width=353.4pt, height=96.7pt]
\addplot[dsh] coordinates {(1000,-0.1) (1000,1.2)};
\addplot[lf] table[x=t,y=y] {\preL};
\addplot[lf] table[x=t,y=y] {\rightL};
\end{axis}
\begin{axis}[rins, at={(736pt,392.7pt)}, width=93.5pt, height=45pt]
\addplot[lf] table[x=t,y=y] {\rightL};
\end{axis}

% ================= (c1) =================
\begin{axis}[rast, at={(55pt,159.4pt)}, width=362.6pt, height=96.6pt]
\addplot[dsh] coordinates {(1000,-1) (1000,13)};
\addplot[spk] table[x=t,y=y] {\preR};
\addplot[spk] table[x=t,y=y] {\coneR};
\addplot[spk] table[x index=0,y index=0,y expr=0.5] {\cOdd};
\addplot[spk] table[x index=0,y index=0,y expr=2.5] {\cOdd};
\addplot[spk] table[x index=0,y index=0,y expr=4.5] {\cOdd};
\addplot[spk] table[x index=0,y index=0,y expr=6.5] {\cOdd};
\addplot[spk] table[x index=0,y index=0,y expr=8.5] {\cOdd};
\addplot[spk] table[x index=0,y index=0,y expr=1.5] {\cEven};
\addplot[spk] table[x index=0,y index=0,y expr=3.5] {\cEven};
\addplot[spk] table[x index=0,y index=0,y expr=5.5] {\cEven};
\addplot[spk] table[x index=0,y index=0,y expr=7.5] {\cEven};
\addplot[spk] table[x index=0,y index=0,y expr=9.5] {\cEven};
\end{axis}
\begin{axis}[lfp, at={(55pt,31.9pt)}, width=362.6pt, height=96.2pt]
\addplot[dsh] coordinates {(1000,-0.1) (1000,1.2)};
\addplot[lf] table[x=t,y=y] {\preL};
\addplot[lf] table[x=t,y=y] {\coneL};
\addplot[lf] table[x=t,y=y] {\coneB};
\end{axis}
\begin{axis}[ins, at={(176.7pt,96.7pt)}, width=71.6pt, height=30.3pt,
  xmin=1448, xmax=1500, ymin=0.2, ymax=0.8, xtick={1460,1480,1500}, xticklabels={1460,1480,1500},
  ytick={0.2,0.4,0.6}, yticklabels={0.2,0.4,0.6}]
\addplot[lf] table[x=t,y=y] {\coneB};
\end{axis}
\begin{axis}[ins, at={(336.7pt,112.7pt)}, width=67.3pt, height=27.6pt,
  xmin=1450, xmax=1504, ymin=-0.3, ymax=11.4, xtick={1460,1480,1500}, xticklabels={1460,1480,1500},
  ytick={0,5,10}, yticklabels={0,5,10}]
\addplot[spks] table[x index=0,y index=0,y expr=0.5] {\cOdd};
\addplot[spks] table[x index=0,y index=0,y expr=2.5] {\cOdd};
\addplot[spks] table[x index=0,y index=0,y expr=4.5] {\cOdd};
\addplot[spks] table[x index=0,y index=0,y expr=6.5] {\cOdd};
\addplot[spks] table[x index=0,y index=0,y expr=8.5] {\cOdd};
\addplot[spks] table[x index=0,y index=0,y expr=1.5] {\cEven};
\addplot[spks] table[x index=0,y index=0,y expr=3.5] {\cEven};
\addplot[spks] table[x index=0,y index=0,y expr=5.5] {\cEven};
\addplot[spks] table[x index=0,y index=0,y expr=7.5] {\cEven};
\addplot[spks] table[x index=0,y index=0,y expr=9.5] {\cEven};
\end{axis}
\draw[blue, line width=1pt, ->, >=stealth] (407pt,163.3pt) -- (395pt,144.3pt);

% ================= (c2) =================
\begin{axis}[rast, at={(486.7pt,159.4pt)}, width=353.4pt, height=96.6pt]
\addplot[dsh] coordinates {(1000,-1) (1000,13)};
\addplot[spk] table[x=t,y=y] {\preR};
\addplot[spk] table[x=t,y=y] {\ctwoR};
\end{axis}
\begin{axis}[lfp, at={(486.7pt,31.9pt)}, width=353.4pt, height=96.2pt]
\addplot[dsh] coordinates {(1000,-0.1) (1000,1.2)};
\addplot[lf] table[x=t,y=y] {\preL};
\addplot[lf] table[x=t,y=y] {\rightL};
\end{axis}
\begin{axis}[rins, at={(736.7pt,82pt)}, width=93pt, height=45pt]
\addplot[lf] table[x=t,y=y] {\rightL};
\end{axis}

% ================= text =================
\node[font=\pan] at (36.7pt,891pt) {(a1)};
\node[font=\pan] at (458.3pt,889.3pt) {(a2)};
\node[font=\pan] at (36.7pt,590pt) {(b1)};
\node[font=\pan] at (460pt,589.3pt) {(b2)};
\node[font=\pan] at (36.7pt,289.3pt) {(c1)};
\node[font=\pan] at (460pt,289.3pt) {(c2)};

\node[font=\lab] at (237pt,874pt) {Raster plot};
\node[font=\lab] at (658.3pt,872.7pt) {Raster plot};
\node[font=\lab] at (242.3pt,572.7pt) {Raster plot};
\node[font=\lab] at (663.3pt,572.7pt) {Raster plot};
\node[font=\lab] at (236.7pt,272.7pt) {Raster plot};
\node[font=\lab] at (663.3pt,271pt) {Raster plot};

\node[font=\lab, rotate=90] at (22pt,811pt) {Index};
\node[font=\lab, rotate=90] at (443.3pt,811pt) {Index};
\node[font=\lab, rotate=90] at (33.3pt,509.3pt) {Index};
\node[font=\lab, rotate=90] at (455pt,509.3pt) {Index};
\node[font=\lab, rotate=90] at (33.3pt,216pt) {Index};
\node[font=\lab, rotate=90] at (455pt,209.3pt) {Index};

\node[font=\lab, rotate=90] at (17.5pt,694.3pt) {LFP};
\node[font=\lab, rotate=90] at (440pt,693pt) {LFP};
\node[font=\lab, rotate=90] at (26.7pt,394.3pt) {LFP};
\node[font=\lab, rotate=90] at (451.7pt,392.7pt) {LFP};
\node[font=\lab, rotate=90] at (25pt,92.7pt) {LFP};
\node[font=\lab, rotate=90] at (451.7pt,85.3pt) {LFP};

\node[font=\lab] at (236.7pt,618.5pt) {t~~[msec]};
\node[font=\lab] at (660pt,618.5pt) {t~~[msec]};
\node[font=\lab] at (238.3pt,318pt) {t~~[msec]};
\node[font=\lab] at (663.3pt,318pt) {t~~[msec]};
\node[font=\lab] at (238.3pt,9pt) {t~~[msec]};
\node[font=\lab] at (663.3pt,9pt) {t~~[msec]};

\node[anchor=base west, inner sep=0] at (91.7pt,845pt) {\gex{0}};
\node[anchor=base west, inner sep=0] at (200pt,845pt) {\gex{0.08}};
\node[anchor=base west, inner sep=0] at (517.3pt,845pt) {\gex{0}};
\node[anchor=base west, inner sep=0] at (612.7pt,845pt) {\gex{0.08}};
\node[anchor=base west, inner sep=0] at (110pt,543.7pt) {\gex{0}};
\node[anchor=base west, inner sep=0] at (190pt,543.7pt) {\gex{0.1}};
\node[anchor=base west, inner sep=0] at (526.7pt,543.7pt) {\gex{0}};
\node[anchor=base west, inner sep=0] at (622.3pt,543.7pt) {\gex{0.1}};
\node[anchor=base west, inner sep=0] at (95.7pt,243.7pt) {\gex{0}};
\node[anchor=base west, inner sep=0] at (181.7pt,243.7pt) {\gex{0.12}};
\node[anchor=base west, inner sep=0] at (529.3pt,242.7pt) {\gex{0}};
\node[anchor=base west, inner sep=0] at (609.3pt,242.7pt) {\gex{0.12}};
\end{tikzpicture}
\end{document}
